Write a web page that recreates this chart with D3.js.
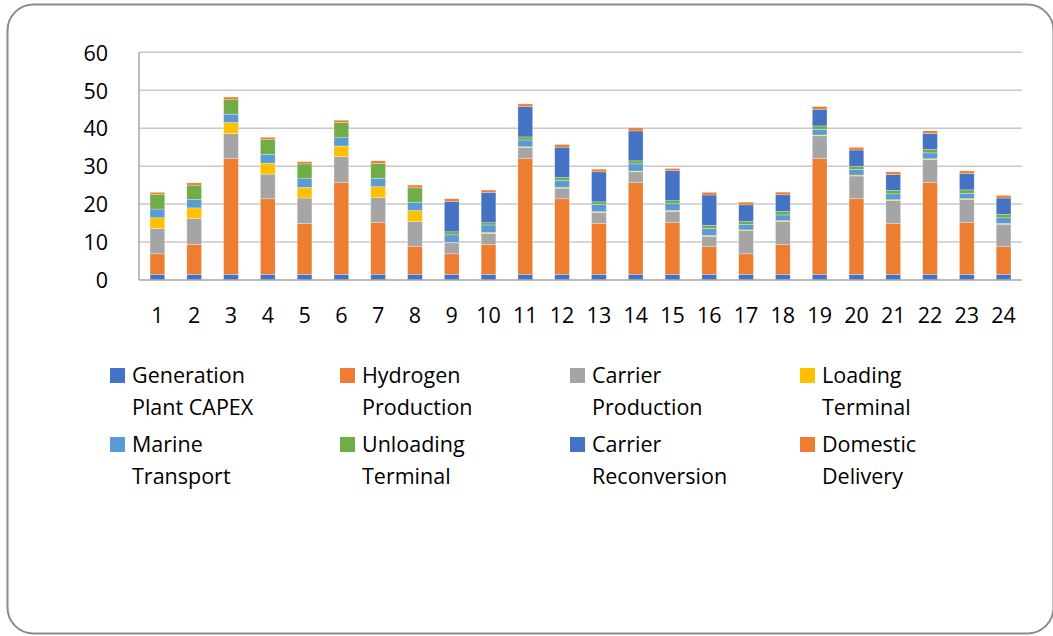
<!DOCTYPE html>
<html>
<head>
<meta charset="utf-8">
<script src="https://cdn.jsdelivr.net/npm/d3@7"></script>
<style>
  html, body { margin: 0; padding: 0; background: #fff; }
  svg text { font-family: "Open Sans", Lato, sans-serif; fill: #000; }
</style>
</head>
<body>
<svg id="chart" width="1053" height="636"></svg>
<script>
// Cost components per case (1..24), stacked bottom to top
const cases = d3.range(1, 25).map(String);
const seriesNames = [
  "Generation Plant CAPEX", "Hydrogen Production", "Carrier Production", "Loading Terminal",
  "Marine Transport", "Unloading Terminal", "Carrier Reconversion", "Domestic Delivery"
];
const seriesColors = ["#4472C4", "#ED7D31", "#A5A5A5", "#FFC000", "#5B9BD5", "#70AD47", "#4472C4", "#ED7D31"];

const generationPlant = [1.5,1.5,1.5,1.5,1.5,1.5,1.5,1.5, 1.5,1.5,1.5,1.5,1.5,1.5,1.5,1.5, 1.5,1.5,1.5,1.5,1.5,1.5,1.5,1.5];
const hydrogenProduction = [5.4,7.9,30.5,19.9,13.4,24.2,13.7,7.3, 5.4,7.9,30.5,19.9,13.4,24.2,13.7,7.3, 5.4,7.9,30.5,19.9,13.4,24.2,13.7,7.3];
const carrierProduction = [6.7,6.8,6.6,6.5,6.7,6.8,6.5,6.6, 2.9,2.8,2.9,2.8,2.9,2.8,2.9,2.7, 6.1,6.0,6.0,6.0,6.0,6.0,6.0,5.9];
const loadingTerminal = [2.8,2.8,2.9,2.9,2.8,2.8,2.9,2.9, 0.1,0.3,0.2,0.2,0.2,0.2,0.2,0.2, 0.2,0.25,0.2,0.25,0.25,0.25,0.25,0.2];
const marineTransport = [2.3,2.2,2.2,2.3,2.3,2.2,2.2,2.2, 2.0,2.0,1.8,1.8,1.9,1.9,1.8,1.9, 1.4,1.5,1.5,1.5,1.55,1.55,1.4,1.5];
const unloadingTerminal = [3.9,3.8,3.8,3.9,3.9,4.0,3.9,3.8, 0.8,0.6,0.8,0.8,0.7,0.8,0.8,0.8, 0.8,0.9,0.9,0.8,0.9,0.9,0.9,0.9];
const carrierReconversion = [0,0,0,0,0,0,0,0, 8.0,8.0,8.0,8.0,7.9,7.9,7.9,8.0, 4.4,4.4,4.4,4.3,4.2,4.2,4.3,4.3];
const domesticDelivery = [0.5,0.6,0.7,0.6,0.6,0.6,0.7,0.7, 0.7,0.6,0.7,0.7,0.7,0.8,0.6,0.7, 0.7,0.7,0.7,0.7,0.7,0.7,0.7,0.7];

const yTicks = [0, 10, 20, 30, 40, 50, 60];

const seriesValues = [generationPlant, hydrogenProduction, carrierProduction, loadingTerminal,
  marineTransport, unloadingTerminal, carrierReconversion, domesticDelivery];

// Table for d3.stack: one row per case, one column per series index
const table = cases.map((c, i) => {
  const row = { case: c };
  seriesValues.forEach((vals, k) => { row["s" + k] = vals[i]; });
  return row;
});
const keys = seriesNames.map((_, k) => "s" + k);
const stacked = d3.stack().keys(keys)(table);

const svg = d3.select("#chart");
const fontFamily = "'Open Sans', Lato, sans-serif";
const fontSize = 21.5;

// Rounded outer frame
svg.append("rect")
  .attr("x", 7.5).attr("y", 4.5)
  .attr("width", 1046).attr("height", 629)
  .attr("rx", 26).attr("ry", 26)
  .attr("fill", "none").attr("stroke", "#8c8c8c").attr("stroke-width", 2);

const plotLeft = 139, plotRight = 1022;
const x = d3.scaleBand().domain(cases).range([plotLeft, plotRight]).paddingInner(0.6).paddingOuter(0.3);
const y = d3.scaleLinear().domain([0, 60]).range([280, 52.3]);

// Horizontal gridlines
svg.append("g").selectAll("line")
  .data(yTicks.filter(t => t > 0))
  .join("line")
  .attr("x1", plotLeft).attr("x2", plotRight)
  .attr("y1", d => y(d)).attr("y2", d => y(d))
  .attr("stroke", "#c8c8c8").attr("stroke-width", 1.5);

// Y axis labels
const yAxis = d3.axisLeft(y).tickValues(yTicks).tickSize(0).tickPadding(31);
const gy = svg.append("g").attr("transform", `translate(${plotLeft},0)`).call(yAxis);
gy.select(".domain").remove();
gy.selectAll("text")
  .attr("font-size", fontSize)
  .attr("font-family", fontFamily)
  .attr("fill", "#000")
  .attr("dy", "0.36em");

// Stacked bars
svg.append("g").selectAll("g")
  .data(stacked)
  .join("g")
  .attr("fill", (d, k) => seriesColors[k])
  .selectAll("rect")
  .data(d => d)
  .join("rect")
  .attr("x", d => x(d.data.case))
  .attr("width", x.bandwidth())
  .attr("y", d => y(d[1]))
  .attr("height", d => Math.max(0, y(d[0]) - y(d[1])))
  .attr("stroke", "#ffffff").attr("stroke-opacity", 0.45).attr("stroke-width", 0.6);

// Axis lines
svg.append("line")
  .attr("x1", plotLeft).attr("x2", plotRight)
  .attr("y1", y(0)).attr("y2", y(0))
  .attr("stroke", "#a6a6a6").attr("stroke-width", 1.5);
svg.append("line")
  .attr("x1", plotLeft).attr("x2", plotLeft)
  .attr("y1", y(60)).attr("y2", y(0))
  .attr("stroke", "#a6a6a6").attr("stroke-width", 1.5);

// X axis labels
const xAxis = d3.axisBottom(x).tickSize(0).tickPadding(0);
const gx = svg.append("g").attr("transform", `translate(0,${y(0)})`).call(xAxis);
gx.select(".domain").remove();
gx.selectAll("text")
  .attr("font-size", fontSize)
  .attr("font-family", fontFamily)
  .attr("fill", "#000")
  .attr("y", 43).attr("dy", 0);

// Legend: 4 columns x 2 rows, each name wrapped onto two lines
const legendCols = [110, 340, 570, 800];
const legendRows = [368, 437];
const legend = svg.append("g").selectAll("g")
  .data(seriesNames)
  .join("g")
  .attr("transform", (d, k) => `translate(${legendCols[k % 4]},${legendRows[Math.floor(k / 4)]})`);
legend.append("rect")
  .attr("width", 15).attr("height", 15)
  .attr("fill", (d, k) => seriesColors[k]);
legend.append("text")
  .attr("x", 22)
  .attr("font-size", fontSize)
  .attr("font-family", fontFamily)
  .selectAll("tspan")
  .data(d => { const i = d.indexOf(" "); return [d.slice(0, i), d.slice(i + 1)]; })
  .join("tspan")
  .attr("x", 22)
  .attr("y", (d, i) => 15 + i * 31.5)
  .text(d => d);
</script>
</body>
</html>
